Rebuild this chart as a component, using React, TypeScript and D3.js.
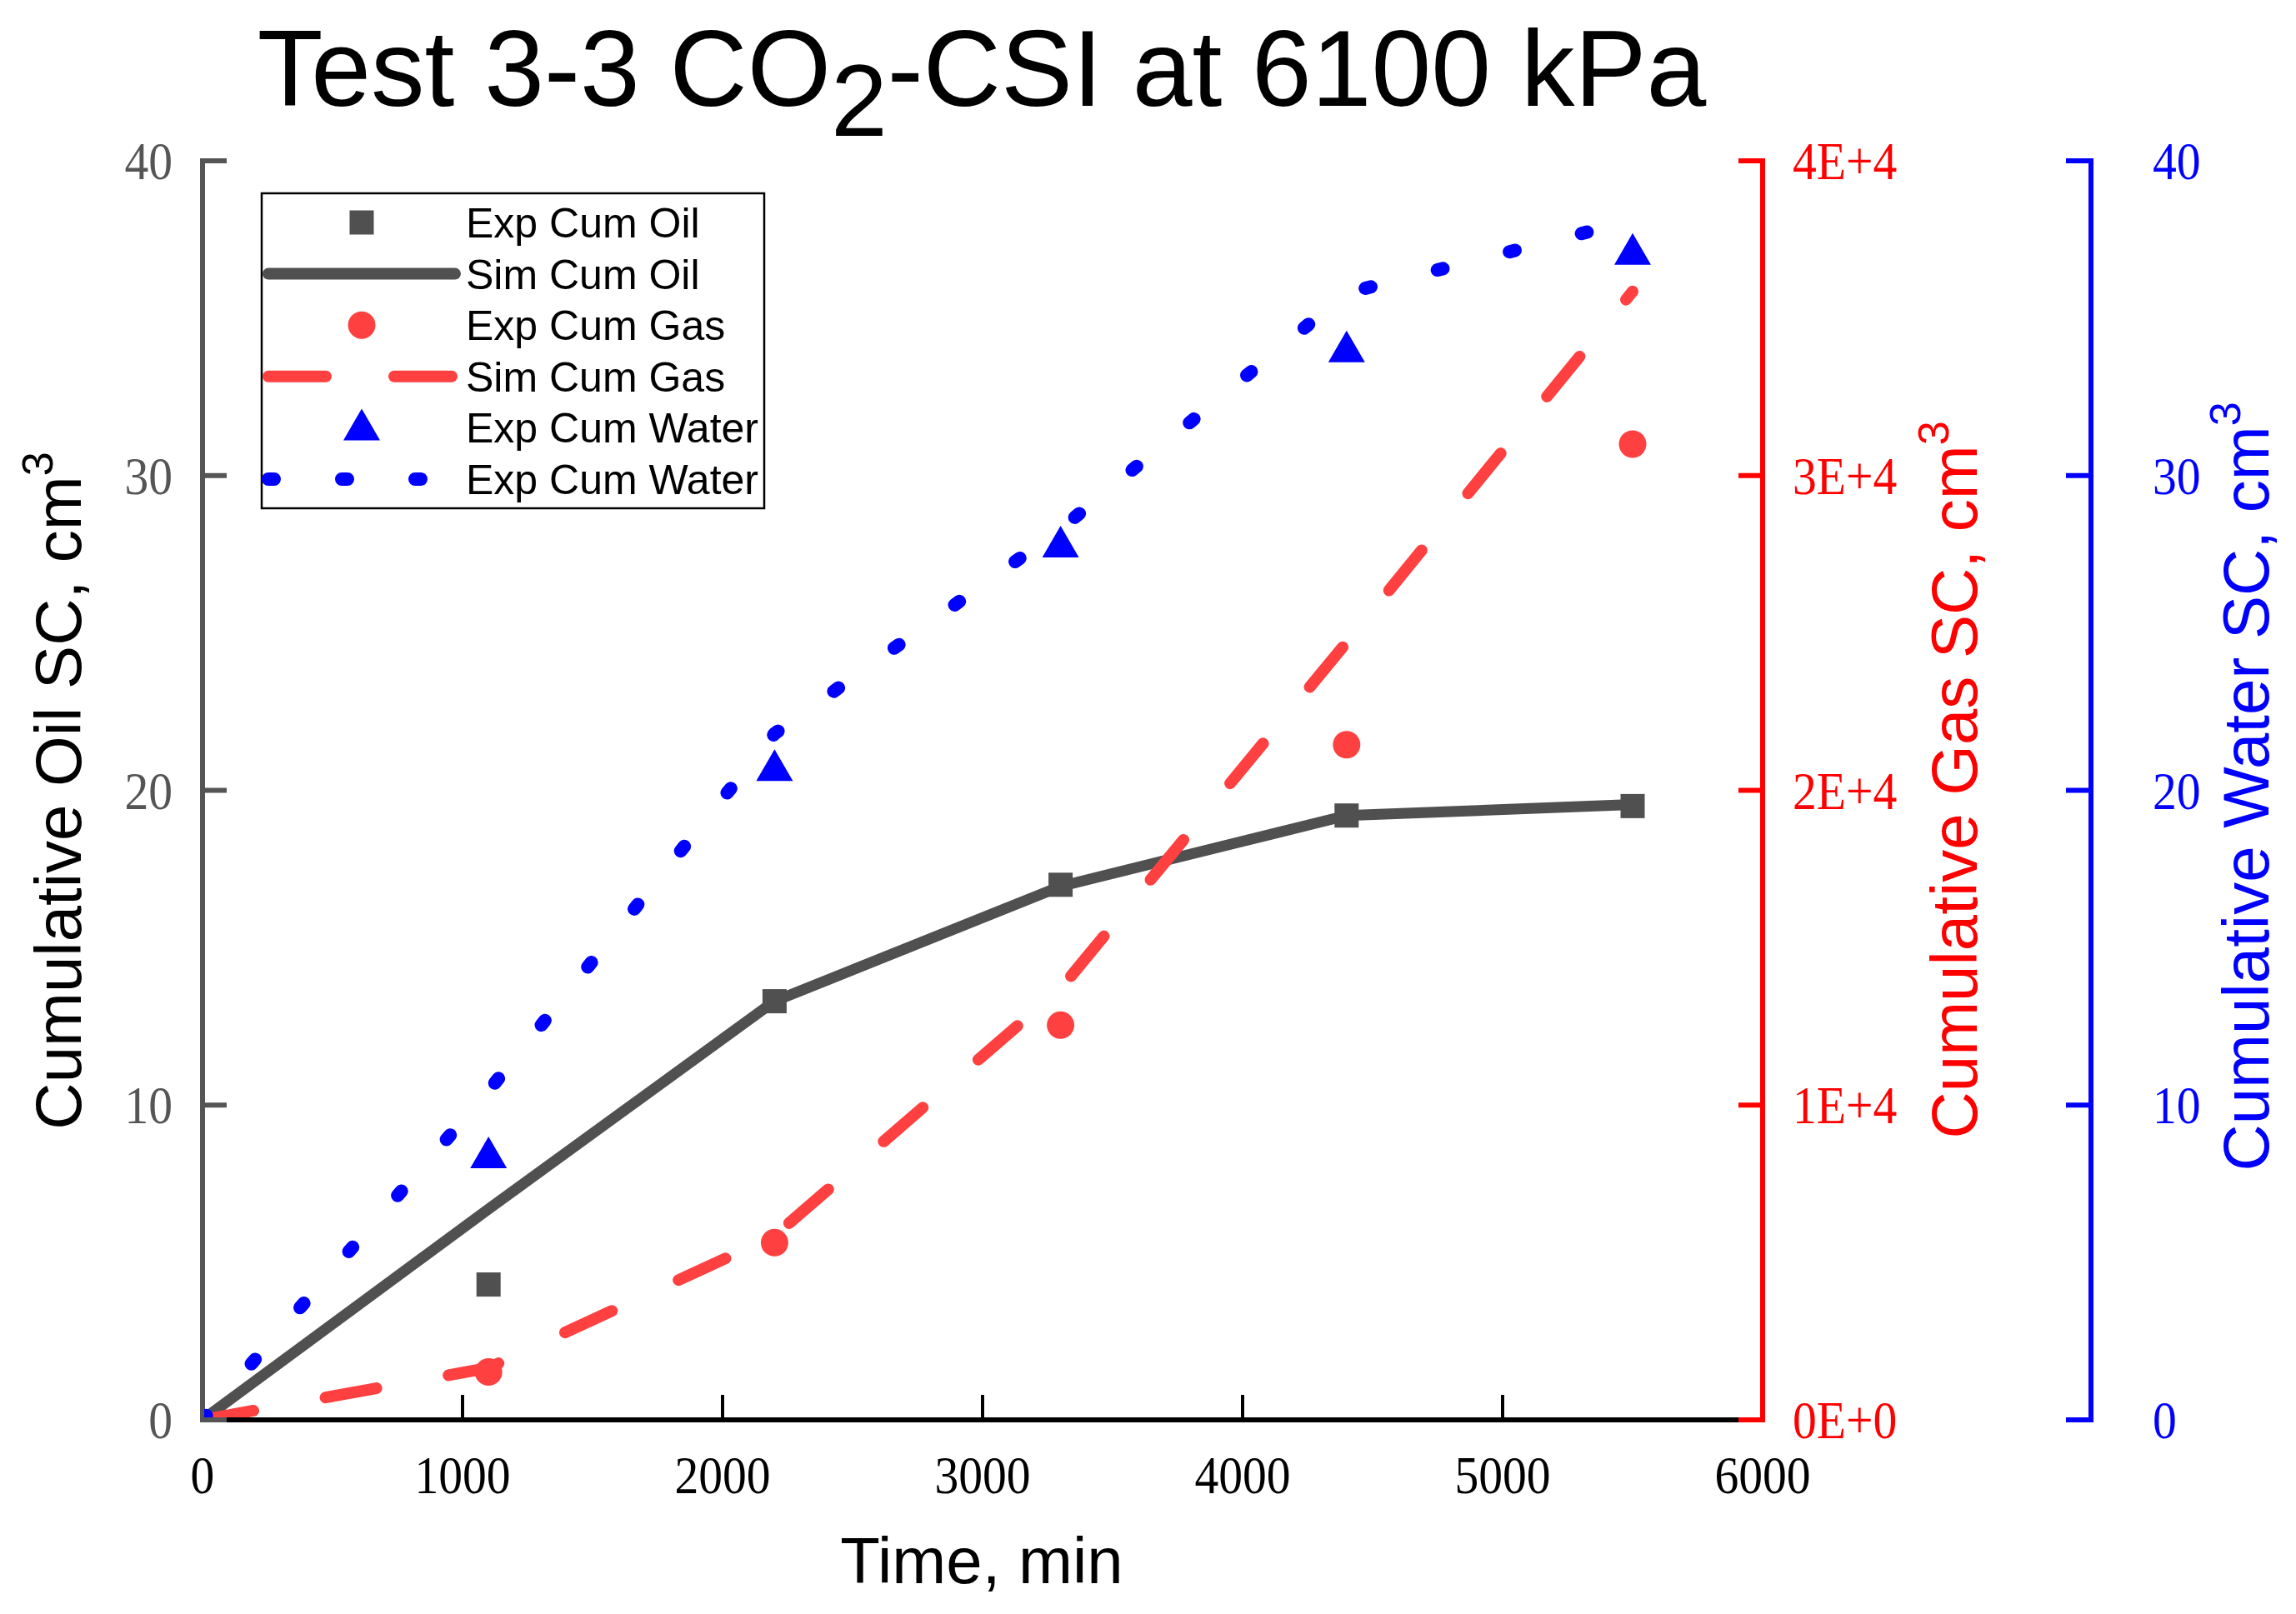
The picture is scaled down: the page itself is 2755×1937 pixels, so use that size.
import React from "react";
import * as d3 from "d3";

// ---------- data ----------
const expTime = [1100, 2200, 3300, 4400, 5500];
const simTime = [0, 1100, 2200, 3300, 4400, 5500];

const expOil = [4.3, 13.3, 17.0, 19.2, 19.5];
const simOil = [0, 6.7, 13.3, 16.95, 19.2, 19.55];

const expGas = [1520, 5630, 12540, 21450, 31000];
const simGas = [0, 1650, 5850, 13700, 24700, 35850];

const expWater = [8.5, 20.8, 27.9, 34.1, 37.2];
const simWater = [0, 10.45, 21.8, 28.3, 35.8, 38.1];

const xTicks = [0, 1000, 2000, 3000, 4000, 5000, 6000];
const oilTicks = [0, 10, 20, 30, 40];
const gasTicks = [0, 10000, 20000, 30000, 40000];
const gasTickLabels = ["0E+0", "1E+4", "2E+4", "3E+4", "4E+4"];
const waterTicks = [0, 10, 20, 30, 40];

const legendLabels = [
  "Exp Cum Oil",
  "Sim Cum Oil",
  "Exp Cum Gas",
  "Sim Cum Gas",
  "Exp Cum Water",
  "Exp Cum Water",
];

// ---------- layout ----------
const W = 2755;
const H = 1937;
const L = 243;
const R = 2115;
const T = 193;
const B = 1704;
const BLUE_AX = 2509;

const GRAY = "#505050";
const RED = "#ff4040";
const BLUE = "#0000ff";

const sans = "'Liberation Sans', Arial, Helvetica, sans-serif";
const serif = "'Liberation Serif', 'Times New Roman', serif";

export default function App() {
  const x = d3.scaleLinear().domain([0, 6000]).range([L, R]);
  const yOil = d3.scaleLinear().domain([0, 40]).range([B, T]);
  const yGas = d3.scaleLinear().domain([0, 40000]).range([B, T]);
  const yWater = d3.scaleLinear().domain([0, 40]).range([B, T]);

  const lineOil = d3
    .line<number>()
    .x((_, i) => x(simTime[i]))
    .y((d) => yOil(d));
  const lineGas = d3
    .line<number>()
    .x((_, i) => x(simTime[i]))
    .y((d) => yGas(d));
  const lineWater = d3
    .line<number>()
    .x((_, i) => x(simTime[i]))
    .y((d) => yWater(d));

  const tickLabel = (
    key: string,
    tx: number,
    ty: number,
    text: string,
    fill: string,
    anchor: "start" | "middle" | "end"
  ) => (
    <g key={key} transform={`translate(${tx},${ty}) scale(0.9,1)`}>
      <text
        x={0}
        y={0}
        fill={fill}
        fontFamily={serif}
        fontSize={64}
        textAnchor={anchor}
      >
        {text}
      </text>
    </g>
  );

  const tri = (cx: number, cy: number, w = 44, h = 38) =>
    `M${cx},${cy - h / 2}L${cx + w / 2},${cy + h / 2}L${cx - w / 2},${cy + h / 2}Z`;

  const legX = 314;
  const legY = 232;
  const legW = 603;
  const legH = 378;
  const rowY = (i: number) => 267 + i * 61.6;
  const symX = 434;

  return (
    <svg
      width={W}
      height={H}
      viewBox={`0 0 ${W} ${H}`}
      style={{ position: "absolute", left: 0, top: 0, background: "#fff" }}
    >
      <rect x={0} y={0} width={W} height={H} fill="#fff" />
      <defs>
        <clipPath id="plotClip">
          <rect x={L + 2} y={T - 40} width={R - L - 2} height={B - T + 37} />
        </clipPath>
      </defs>

      {/* Title */}
      <text
        x={1178}
        y={127}
        textAnchor="middle"
        fontFamily={sans}
        fontSize={129}
        fill="#000"
      >
        <tspan>Test 3-3 CO</tspan>
        <tspan fontSize={122} dy={36}>
          2
        </tspan>
        <tspan dy={-36}>-CSI at 6100 kPa</tspan>
      </text>

      {/* X axis (black) */}
      <line x1={L} x2={R} y1={B} y2={B} stroke="#000" strokeWidth={6} />
      {xTicks.map((t) => (
        <line
          key={"xt" + t}
          x1={x(t)}
          x2={x(t)}
          y1={B}
          y2={B - 30}
          stroke="#000"
          strokeWidth={4}
        />
      ))}
      {xTicks.map((t) => tickLabel("xl" + t, x(t), 1792, String(t), "#000", "middle"))}

      {/* Left axis (gray) */}
      <line x1={L} x2={L} y1={T - 3} y2={B + 3} stroke="#555555" strokeWidth={6} />
      {oilTicks.map((t) => (
        <line
          key={"ot" + t}
          x1={L}
          x2={L + 29}
          y1={yOil(t)}
          y2={yOil(t)}
          stroke="#555555"
          strokeWidth={6}
        />
      ))}
      {oilTicks.map((t) => tickLabel("ol" + t, 207, yOil(t) + 22, String(t), "#555555", "end"))}

      {/* Right red axis */}
      <line x1={R} x2={R} y1={T - 3} y2={B + 3} stroke="#ff0000" strokeWidth={6} />
      {gasTicks.map((t) => (
        <line
          key={"gt" + t}
          x1={R}
          x2={R - 29}
          y1={yGas(t)}
          y2={yGas(t)}
          stroke="#ff0000"
          strokeWidth={6}
        />
      ))}
      {gasTicks.map((t, i) =>
        tickLabel("gl" + t, 2151, yGas(t) + 22, gasTickLabels[i], "#ff0000", "start")
      )}

      {/* Right blue axis */}
      <line
        x1={BLUE_AX}
        x2={BLUE_AX}
        y1={T - 3}
        y2={B + 3}
        stroke="#0000ff"
        strokeWidth={6}
      />
      {waterTicks.map((t) => (
        <line
          key={"wt" + t}
          x1={BLUE_AX}
          x2={BLUE_AX - 30}
          y1={yWater(t)}
          y2={yWater(t)}
          stroke="#0000ff"
          strokeWidth={6}
        />
      ))}
      {waterTicks.map((t) => tickLabel("wl" + t, 2583, yWater(t) + 22, String(t), "#0000ff", "start"))}

      {/* Axis titles */}
      <text
        x={1178}
        y={1900}
        textAnchor="middle"
        fontFamily={sans}
        fontSize={78}
        fill="#000"
      >
        Time, min
      </text>
      <text
        transform="translate(97,949) rotate(-90)"
        textAnchor="middle"
        fontFamily={sans}
        fontSize={78}
        fill="#000"
      >
        Cumulative Oil SC, cm
        <tspan fontSize={52} dy={-34}>
          3
        </tspan>
      </text>
      <text
        transform="translate(2372,936) rotate(-90)"
        textAnchor="middle"
        fontFamily={sans}
        fontSize={78}
        fill="#ff0000"
      >
        Cumulative Gas SC, cm
        <tspan fontSize={52} dy={-34}>
          3
        </tspan>
      </text>
      <text
        transform="translate(2722,944) rotate(-90)"
        textAnchor="middle"
        fontFamily={sans}
        fontSize={78}
        fill="#0000ff"
      >
        Cumulative Water SC, cm
        <tspan fontSize={52} dy={-34}>
          3
        </tspan>
      </text>

      {/* Lines */}
      <g clipPath="url(#plotClip)">
        <path
          d={lineOil(simOil) || ""}
          fill="none"
          stroke={GRAY}
          strokeWidth={13}
          strokeLinejoin="round"
          strokeLinecap="round"
        />
        <path
          d={lineGas(simGas) || ""}
          fill="none"
          stroke={RED}
          strokeWidth={14}
          strokeDasharray="62 88"
          strokeLinecap="round"
        />
        <path
          d={lineWater(simWater) || ""}
          fill="none"
          stroke={BLUE}
          strokeWidth={16}
          strokeDasharray="7 82.2"
          strokeLinecap="round"
        />
      </g>

      {/* Markers */}
      {expTime.map((t, i) => (
        <rect
          key={"so" + t}
          x={x(t) - 14.5}
          y={yOil(expOil[i]) - 14.5}
          width={29}
          height={29}
          fill={GRAY}
        />
      ))}
      {expTime.map((t, i) => (
        <circle key={"sg" + t} cx={x(t)} cy={yGas(expGas[i])} r={16.5} fill={RED} />
      ))}
      {expTime.map((t, i) => (
        <path key={"sw" + t} d={tri(x(t), yWater(expWater[i]))} fill={BLUE} />
      ))}

      {/* Legend */}
      <rect
        x={legX}
        y={legY}
        width={legW}
        height={legH}
        fill="#fff"
        stroke="#000"
        strokeWidth={2.5}
      />
      <rect x={symX - 14.5} y={rowY(0) - 14.5} width={29} height={29} fill={GRAY} />
      <line
        x1={322}
        x2={546}
        y1={rowY(1)}
        y2={rowY(1)}
        stroke={GRAY}
        strokeWidth={14}
        strokeLinecap="round"
      />
      <circle cx={symX} cy={rowY(2)} r={16.5} fill={RED} />
      <line
        x1={322}
        x2={546}
        y1={rowY(3)}
        y2={rowY(3)}
        stroke={RED}
        strokeWidth={14}
        strokeDasharray="69 82"
        strokeLinecap="round"
      />
      <path d={tri(symX, rowY(4) - 4)} fill={BLUE} />
      <line
        x1={322}
        x2={546}
        y1={rowY(5)}
        y2={rowY(5)}
        stroke={BLUE}
        strokeWidth={16}
        strokeDasharray="7 81"
        strokeLinecap="round"
      />
      {legendLabels.map((lab, i) => (
        <text
          key={"lg" + i}
          x={559}
          y={rowY(i) + 18}
          fontFamily={sans}
          fontSize={50}
          fill="#000"
        >
          {lab}
        </text>
      ))}
    </svg>
  );
}
